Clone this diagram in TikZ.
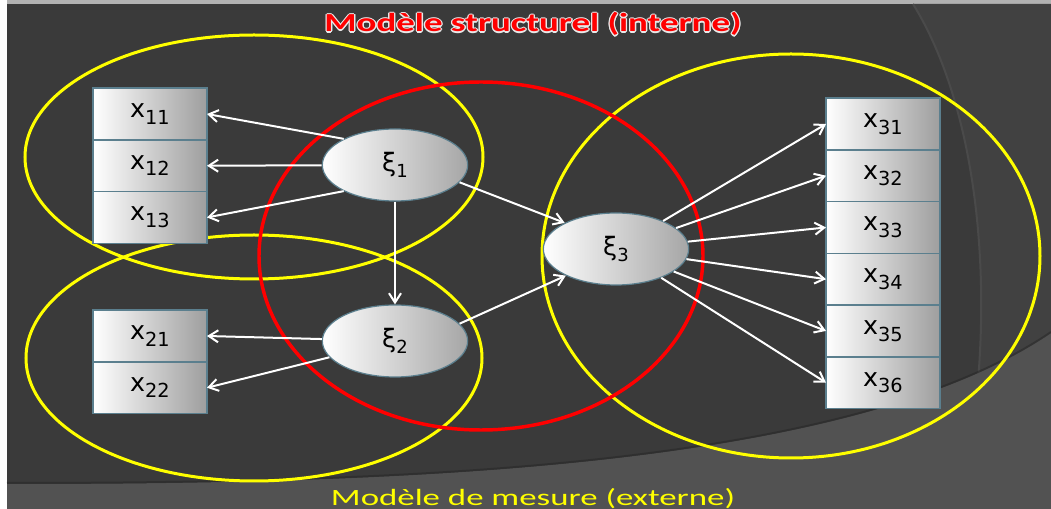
\documentclass[tikz,border=0pt]{standalone}
\usepackage{graphicx}
\usepackage{fontspec}
\setmainfont{DejaVu Sans}
\newfontfamily\titlefont{Carlito}
\usetikzlibrary{arrows.meta,positioning,shapes.geometric}
\definecolor{bgdark}{HTML}{3A3A3A}
\definecolor{bgband}{HTML}{525252}
\definecolor{bgright}{HTML}{414141}
\definecolor{bgarc}{HTML}{4A4A4A}
\definecolor{frame}{HTML}{5B7F8E}
\definecolor{ringy}{HTML}{FFFF00}
\definecolor{ringr}{HTML}{FF0000}
\definecolor{glow}{HTML}{E8E8E8}
\newcommand{\xv}[1]{x\raisebox{-5pt}{\fontsize{14.5}{15}\selectfont #1}}
\newcommand{\xiv}[1]{ξ\raisebox{-4pt}{\fontsize{13.5}{14}\selectfont #1}}
\newcommand{\toptext}{\resizebox{312.75pt}{\height}{\titlefont\bfseries\fontsize{19.5}{20}\selectfont Modèle structurel (interne)}}
\newcommand{\bottext}{\resizebox{303pt}{\height}{\titlefont\fontsize{17.5}{18}\selectfont Modèle de mesure (externe)}}

\begin{document}
\begin{tikzpicture}[x=0.75pt,y=-0.75pt,
  mvar/.style={draw=frame, line width=1.1pt, left color=white, right color=black!38,
    minimum width=85.5pt, minimum height=38.8pt, inner sep=0pt, outer sep=0pt,
    font=\fontsize{19}{20}\selectfont},
  lvar/.style={ellipse, draw=frame, line width=0.9pt, left color=white, right color=black!35,
    minimum width=109pt, minimum height=54pt, inner sep=0pt,
    font=\fontsize{19}{20}\selectfont},
  link/.style={draw=white, line width=1.5pt, -{Straight Barb[length=7pt,width=9pt]}},
  yring/.style={draw=ringy, line width=2.25pt},
  rring/.style={draw=ringr, line width=2.6pt},
  title/.style={anchor=base, inner sep=0pt},
]
  \useasboundingbox (0,0) rectangle (1051,509);

  % background
  \fill[white] (0,0) rectangle (1051,509);
  \fill[black!30] (7,0) rectangle (1051,4);
  \fill[bgdark] (7,4) rectangle (1051,509);
  \fill[bgright] (913,4) .. controls (985,120) and (1000,330) .. (958,509) -- (1051,509) -- (1051,4) -- cycle;
  \draw[bgarc,line width=1.5pt] (913,4) .. controls (985,120) and (1000,330) .. (958,509);
  \fill[bgband] (7,484) .. controls (400,484) and (850,470) .. (1051,333) -- (1051,509) -- (7,509) -- cycle;
  \draw[black!85,line width=1.5pt,opacity=0.5] (7,483) .. controls (400,483) and (850,469) .. (1051,332);

  % rings
  \draw[yring] (254,157) ellipse [x radius=229, y radius=122];
  \draw[yring] (254,358) ellipse [x radius=228, y radius=123];
  \draw[yring] (791,256) ellipse [x radius=249, y radius=202];
  \draw[rring] (481,256) ellipse [x radius=222, y radius=174];

  % indicators
  \node[mvar] (x11) at (150,114) {\xv{11}};
  \node[mvar, below=0pt of x11] (x12) {\xv{12}};
  \node[mvar, below=0pt of x12] (x13) {\xv{13}};
  \node[mvar] (x21) at (150,336) {\xv{21}};
  \node[mvar, below=0pt of x21] (x22) {\xv{22}};
  \node[mvar] (x31) at (883,124) {\xv{31}};
  \foreach \i [remember=\i as \j (initially 1)] in {2,...,6}
    \node[mvar, below=0pt of x3\j] (x3\i) {\xv{3\i}};

  % latent variables
  \node[lvar] (xi1) at (395,165) {\xiv{1}};
  \node[lvar] (xi2) at (395,341) {\xiv{2}};
  \node[lvar] (xi3) at (616,249) {\xiv{3}};

  % links
  \draw[link] (xi1.153) -- (x11.east);
  \draw[link] (xi1) -- (x12.east);
  \draw[link] (xi1.207) -- (x13.east);
  \draw[link] (xi2) -- (x21.east);
  \draw[link] (xi2) -- (x22.east);
  \draw[link] (xi1) -- (xi2);
  \draw[link] (xi1.-15) -- (xi3.153);
  \draw[link] (xi2.15) -- (xi3.208);
  \foreach \i in {1,...,6}
    \draw[link] (xi3) -- (x3\i.west);

  % titles
  \foreach \dx/\dy [count=\k] in {-1/0,1/0,0/-1,0/1,-0.7/-0.7,0.7/0.7,-0.7/0.7,0.7/-0.7}
    \node[title, text=glow, xshift=\dx pt, yshift=\dy pt] (glow\k) at (533,32) {\toptext};
  \node[title, text=ringr] (inner) at (533,32) {\toptext};
  \node[title, text=ringy] (outer) at (533,506) {\bottext};
\end{tikzpicture}
\end{document}
